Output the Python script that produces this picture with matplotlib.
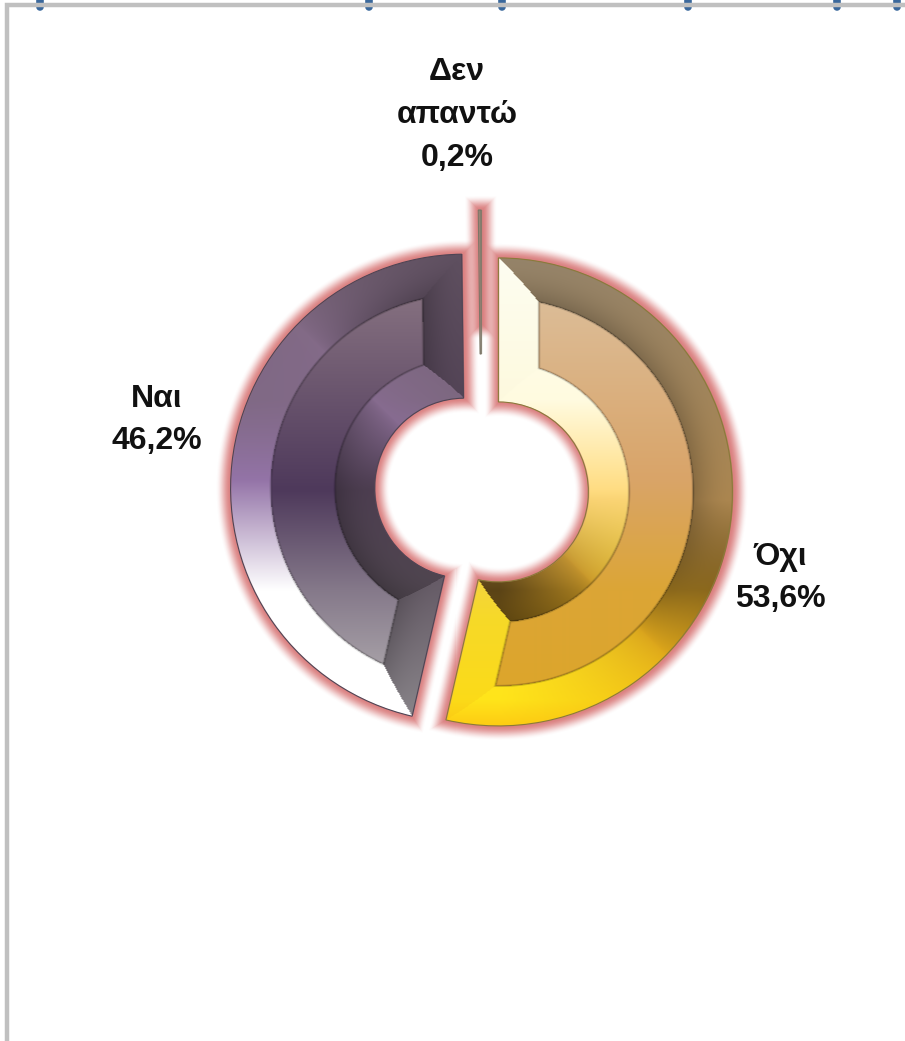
import numpy as np
import matplotlib
matplotlib.use("Agg")
import matplotlib.pyplot as plt
from matplotlib.colors import to_rgb

W, H = 905, 1041

# data
categories = ['Όχι', 'Ναι', 'Δεν\nαπαντώ']
values = [53.6, 46.2, 0.2]
value_labels = ['53,6%', '46,2%', '0,2%']
explode = [17, 17, 46]

# label centres, in pixels from the top left
label_x = [780, 157, 457]
label_y = [578, 420, 115]

# bits of the line above the chart, cut off by the crop
top_marks_x = [40, 369, 502, 688, 837, 897]

# y in pixels -> colour, one table per slice: Όχι, Ναι, sliver
face_stops = [
    [(290, '#dcbe9a'), (480, '#d9a468'), (590, '#dca636'), (700, '#dca52a')],
    [(290, '#877281'), (490, '#4e395b'), (590, '#85798a'), (670, '#a8a2a8')],
    [(200, '#8b8474'), (370, '#8b8474')],
]
band_stops = [
    [(250, '#a39070'), (480, '#ad8650'), (600, '#cf9c22'), (730, '#f5b90f')],
    [(250, '#7f6a7d'), (480, '#8a6c98'), (590, '#c9bfcd'), (720, '#f2eef2')],
    [(200, '#8b8474'), (370, '#8b8474')],
]
light_stops = [
    [(250, '#fffff4'), (400, '#fffbe0'), (500, '#ffd977'), (620, '#ffe82a'), (700, '#ffe41a'), (730, '#fdc812')],
    [(250, '#75607a'), (400, '#7d6880'), (480, '#9474a8'), (590, '#ffffff'), (720, '#ffffff')],
    [(200, '#8b8474'), (370, '#8b8474')],
]
dark_stops = [
    [(250, '#94836a'), (500, '#ab8650'), (590, '#5c4416'), (730, '#b8890f')],
    [(250, '#5f5060'), (480, '#4c3d50'), (590, '#504650'), (720, '#6f6b70')],
    [(200, '#8b8474'), (370, '#8b8474')],
]
edge_colors = ['#8a7a3a', '#4e4454', '#7d7768']
bevels = [40, 40, 0]
halo_trim = [0, 0, 30]
halo_color = '#d97a7a'


def ramp(stops, py):
    ys = [s[0] for s in stops]
    cols = np.array([to_rgb(s[1]) for s in stops])
    return np.stack([np.interp(py, ys, cols[:, i]) for i in range(3)], axis=-1)


def wedge_fields(wedge, X, Y):
    cx, cy = wedge.center
    dx, dy = X - cx, Y - cy
    r = np.hypot(dx, dy)
    ang = np.degrees(np.arctan2(dy, dx))
    t1, t2 = wedge.theta1, wedge.theta2
    span = t2 - t1
    a = (ang - t1) % 360
    ad1 = np.minimum(a, 360 - a)
    b = np.abs(a - span)
    ad2 = np.minimum(b, 360 - b)
    s1 = r * np.sin(np.radians(np.clip(ad1, 0, 90)))
    s2 = r * np.sin(np.radians(np.clip(ad2, 0, 90)))
    side = np.minimum(s1, s2)
    side = np.where(a < span, side, -side)
    d_out = wedge.r - r
    d_in = r - (wedge.r - wedge.width)
    return r, dx, dy, d_out, d_in, s1, s2, np.minimum(np.minimum(d_out, d_in), side)


fig = plt.figure(figsize=(W / 100, H / 100), dpi=100, facecolor='white')
ax = fig.add_axes([0, 0, 1, 1])

wedges, _ = ax.pie(values, explode=explode, center=(481.5, H - 490), radius=234,
                   startangle=90, counterclock=False,
                   wedgeprops=dict(width=144, facecolor='none', linewidth=0.8))

X, Y = np.meshgrid(np.arange(W) + 0.5, np.arange(H) + 0.5)
py = H - Y
light = np.array([-0.7, -0.72])

for i, w in enumerate(wedges):
    w.set_edgecolor(edge_colors[i])
    w.set_zorder(4)
    r, dx, dy, d_out, d_in, s1, s2, sdf = wedge_fields(w, X, Y)

    # soft glow round the slice
    halo_sdf = sdf
    if halo_trim[i]:
        halo_sdf = np.minimum(sdf, r - (w.r - w.width + halo_trim[i]))
    fall = np.clip(1 + halo_sdf / 15, 0, 1)
    glow = np.zeros((H, W, 4))
    glow[..., :3] = to_rgb(halo_color)
    glow[..., 3] = 0.95 * fall * fall * (3 - 2 * fall)
    ax.imshow(glow, extent=(0, W, 0, H), origin='lower', zorder=1, interpolation='nearest')

    # outward normal of whichever edge is closest
    ux, uy = dx / np.maximum(r, 1), dy / np.maximum(r, 1)
    t1, t2 = np.radians(w.theta1), np.radians(w.theta2)
    dists = np.stack([d_out, d_in, s1, s2])
    which = np.argmin(dists, axis=0)
    near = np.min(dists, axis=0)
    nx = np.choose(which, [ux, -ux, np.full_like(ux, np.sin(t1)), np.full_like(ux, -np.sin(t2))])
    ny = np.choose(which, [uy, -uy, np.full_like(ux, -np.cos(t1)), np.full_like(ux, np.cos(t2))])
    lit = nx * light[0] + ny * light[1]

    face = ramp(face_stops[i], py)
    band = ramp(band_stops[i], py)
    hi = ramp(light_stops[i], py)
    lo = ramp(dark_stops[i], py)
    up = np.clip(lit * 1.4, 0, 1)[..., None] ** 0.7
    down = np.clip(-lit * 1.4, 0, 1)[..., None] ** 0.7
    shaded = band * (1 - up) + hi * up
    shaded = shaded * (1 - down) + lo * down

    if bevels[i]:
        # shaded sides get darker towards the face
        depth = np.clip(near / bevels[i], 0, 1)[..., None] ** 2
        shaded = shaded * (1 - 0.2 * depth * down)
        rgb = np.where((near < bevels[i])[..., None], shaded, face)
        # thin crease where the bevel meets the face
        crease = np.clip(1 - np.abs(near - bevels[i]) / 1.6, 0, 1)[..., None]
        rgb = rgb * (1 - 0.3 * crease)
    else:
        rgb = face

    img = np.dstack([rgb, np.clip(sdf + 0.5, 0, 1)])
    ax.imshow(img, extent=(0, W, 0, H), origin='lower', zorder=2, interpolation='bilinear')

# frame lines, top and left
ax.plot([6.5, 6.5, W], [0, H - 5, H - 5], color='#c0c0c0', lw=3.2,
        solid_joinstyle='miter', zorder=6)
for x in top_marks_x:
    ax.plot([x, x], [H - 7, H + 5], color='#3a689c', lw=5.5, solid_capstyle='round', zorder=5)

for name, val, lx, ly in zip(categories, value_labels, label_x, label_y):
    ax.text(lx, H - ly, f'{name}\n{val}', ha='center', va='center', fontsize=23,
            fontweight='bold', family='Liberation Sans', color='#111111', linespacing=1.55, zorder=7)

ax.set_xlim(0, W)
ax.set_ylim(0, H)
ax.set_aspect('auto')
ax.axis('off')

fig.savefig('out.png', dpi=100)
